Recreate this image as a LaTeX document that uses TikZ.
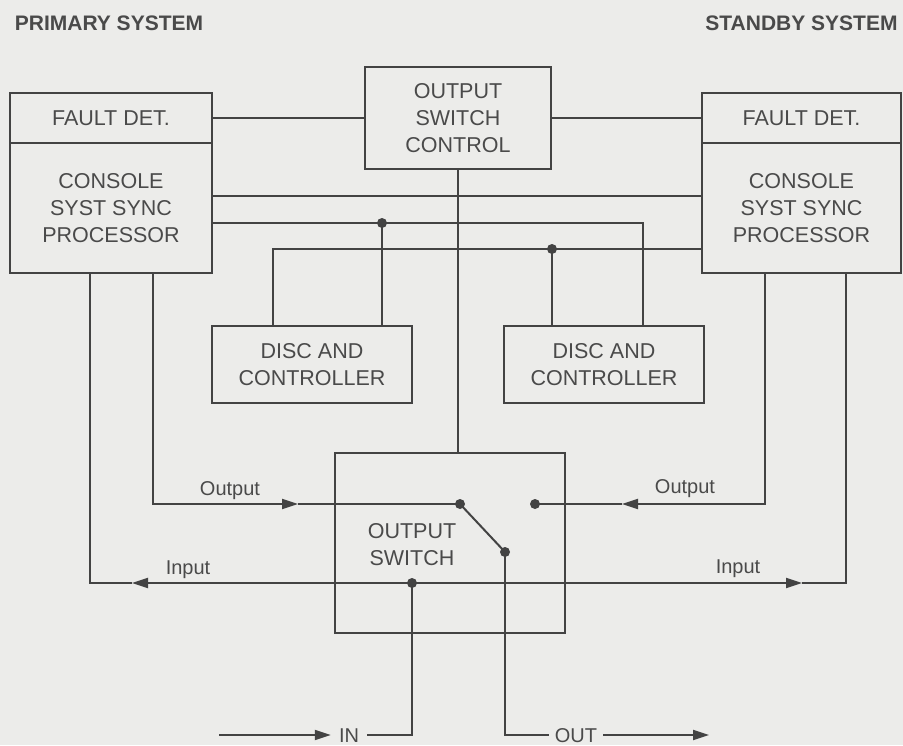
\documentclass[tikz,border=0pt]{standalone}
\usepackage{fontspec}
\setmainfont{Liberation Sans}
\usetikzlibrary{arrows.meta,positioning}
\definecolor{ink}{HTML}{434343}
\definecolor{txt}{HTML}{4A4A4A}
\definecolor{paper}{HTML}{ECECEA}

\begin{document}
\begin{tikzpicture}[x=1pt,y=-1pt,
  box/.style={draw=ink, line width=2.6pt, inner sep=0pt, outer sep=0pt, align=center, text=txt, font=\fontsize{21.5}{27}\selectfont},
  wire/.style={draw=ink, line width=2pt},
  arr/.style={wire, -{Triangle[length=16pt,width=10pt]}},
  lbl/.style={anchor=base, text=txt, font=\fontsize{20}{24}\selectfont},
  title/.style={anchor=base, text=txt, font=\fontsize{21}{24}\bfseries\selectfont},
]
\useasboundingbox (0,0) rectangle (903,745);
\fill[paper] (0,0) rectangle (903,745);

\node[title] (ttlP) at (109,30) {PRIMARY SYSTEM};
\node[title] (ttlS) at (801.5,30) {STANDBY SYSTEM};

\node[box, minimum width=202pt, minimum height=50pt] (faultP) at (111,118) {FAULT DET.};
\node[box, minimum width=202pt, minimum height=130pt] (procP) at (111,208) {CONSOLE\\SYST SYNC\\PROCESSOR};
\node[box, minimum width=199pt, minimum height=50pt] (faultS) at (801.5,118) {FAULT DET.};
\node[box, minimum width=199pt, minimum height=130pt] (procS) at (801.5,208) {CONSOLE\\SYST SYNC\\PROCESSOR};
\node[box, minimum width=186pt, minimum height=102pt] (osc) at (458,118) {OUTPUT\\SWITCH\\CONTROL};
\node[box, minimum width=200pt, minimum height=77pt] (dcP) at (312,364.5) {DISC AND\\CONTROLLER};
\node[box, minimum width=200pt, minimum height=77pt] (dcS) at (604,364.5) {DISC AND\\CONTROLLER};
\node[box, minimum width=230pt, minimum height=180pt] (sw) at (450,543) {};
\node[box, draw=none] (swtxt) at (412,545) {OUTPUT\\SWITCH};

\node[lbl] (outP) at (230,495) {Output};
\node[lbl] (inP) at (188,574) {Input};
\node[lbl] (outS) at (685,493) {Output};
\node[lbl] (inS) at (738,573) {Input};
\node[lbl, font=\fontsize{20}{24}\selectfont, inner xsep=8pt] (inlbl) at (349,742) {IN};
\node[lbl, font=\fontsize{20}{24}\selectfont, inner xsep=6pt] (outlbl) at (576,742) {OUT};

\coordinate (dL) at (382,223);
\coordinate (dR) at (552,249);
\coordinate (kR) at (643,223);
\coordinate (kL) at (273,249);
\coordinate (oP) at (153,504);
\coordinate (iP) at (90,583);
\coordinate (oS) at (765,504);
\coordinate (iS) at (846,583);
\coordinate (cP) at (460,504);
\coordinate (cS) at (535,504);
\coordinate (pv) at (505,552);
\coordinate (jn) at (412,583);
\coordinate (tOP) at (298,504);
\coordinate (tIP) at (132,583);
\coordinate (tOS) at (622,504);
\coordinate (tIS) at (802,583);
\coordinate (inK) at (412,735);
\coordinate (outK) at (505,735);
\coordinate (inA) at (219,735);
\coordinate (outA) at (709,735);

\draw[wire] (faultP.east) -- (osc.west |- faultP.east);
\draw[wire] (osc.east |- faultS.west) -- (faultS.west);
\draw[wire] (procP.east |- 0,196) -- (procS.west |- 0,196);
\draw[wire] (procP.east |- dL) -- (kR) -- (kR |- dcS.north);
\draw[wire] (dL) -- (dL |- dcP.north);
\draw[wire] (procS.west |- kL) -- (kL) -- (kL |- dcP.north);
\draw[wire] (dR) -- (dR |- dcS.north);
\draw[wire] (osc.south) -- (osc.south |- sw.north);

\draw[arr] (procP.south -| oP) -- (oP) -- (tOP);
\draw[wire] (tOP) -- (cP);
\draw[arr] (jn) -- (tIP);
\draw[wire] (tIP) -- (iP) -- (procP.south -| iP);
\draw[arr] (procS.south -| oS) -- (oS) -- (tOS);
\draw[wire] (tOS) -- (cS);
\draw[arr] (jn) -- (tIS);
\draw[wire] (tIS) -- (iS) -- (procS.south -| iS);
\draw[wire] (cP) -- (pv);

\draw[wire] (jn) -- (inK) -- (inK -| inlbl.east);
\draw[arr] (inA) -- (inA -| inlbl.west);
\draw[wire] (pv) -- (outK) -- (outK -| outlbl.west);
\draw[arr] (outK -| outlbl.east) -- (outA);

\foreach \p in {dL,dR,cP,cS,pv,jn}
  \fill[ink] (\p) circle (5pt);

\end{tikzpicture}
\end{document}
